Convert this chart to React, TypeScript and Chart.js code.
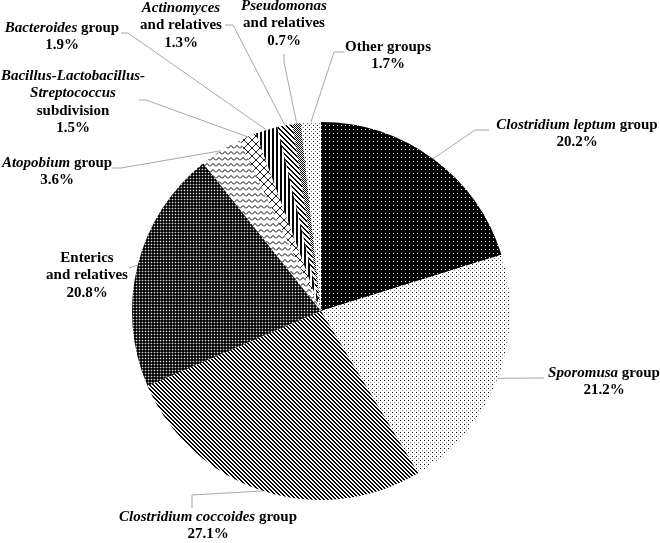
import React, { useEffect, useRef } from "react";
import { Chart, registerables } from "chart.js";

Chart.register(...registerables);

// ---------- data ----------
const categories = [
  "Clostridium leptum group",
  "Sporomusa group",
  "Clostridium coccoides group",
  "Enterics and relatives",
  "Atopobium group",
  "Bacillus-Lactobacillus-Streptococcus subdivision",
  "Bacteroides group",
  "Actinomyces and relatives",
  "Pseudomonas and relatives",
  "Other groups",
];
const values = [20.2, 21.2, 27.1, 20.8, 3.6, 1.5, 1.9, 1.3, 0.7, 1.7];
// label text lines (*...* = italic)
const nameLines = [
  ["*Clostridium leptum* group"],
  ["*Sporomusa* group"],
  ["*Clostridium coccoides* group"],
  ["Enterics", "and relatives"],
  ["*Atopobium* group"],
  ["*Bacillus-Lactobacillus-*", "*Streptococcus*", "subdivision"],
  ["*Bacteroides* group"],
  ["*Actinomyces*", "and relatives"],
  ["*Pseudomonas*", "and relatives"],
  ["Other groups"],
];

// ---------- layout (label placement, leader elbows) ----------
const labelLayout = [
  { cx: 577, y: 125, leader: [[489, 130], [475, 130]] },
  { cx: 604, y: 373, leader: [[544, 378], [533, 378]] },
  { cx: 208, y: 517, leader: [[192, 508], [192, 495]] },
  { cx: 87, y: 258, leader: [[129, 268]] },
  { cx: 57, y: 163, leader: [[112, 168], [121, 168]] },
  { cx: 73, y: 76, leader: [[139, 100], [146, 100]] },
  { cx: 62, y: 28, leader: [[121, 33], [128, 33]] },
  { cx: 181, y: 8, leader: [[225, 25], [233, 25]] },
  { cx: 284, y: 6, leader: [[284, 54], [284, 62]] },
  { cx: 388, y: 47, leader: [[344, 52], [334, 52]] },
];
const LINE_H = 17.5;
const FONT_FAMILY = '"Liberation Serif", "Times New Roman", serif';

// ---------- patterns ----------
function makeTile(w: number, h: number, draw: (g: CanvasRenderingContext2D) => void) {
  const c = document.createElement("canvas");
  c.width = w;
  c.height = h;
  const g = c.getContext("2d")!;
  draw(g);
  return g.createPattern(c, "repeat")!;
}
function px(g: CanvasRenderingContext2D, x: number, y: number, col: string) {
  g.fillStyle = col;
  g.fillRect(x, y, 1, 1);
}

function buildPatterns() {
  const darkDots = makeTile(4, 4, (g) => {
    g.fillStyle = "#000";
    g.fillRect(0, 0, 4, 4);
    px(g, 1, 1, "#fff");
  });
  const lightDots = makeTile(4, 4, (g) => {
    g.fillStyle = "#fff";
    g.fillRect(0, 0, 4, 4);
    px(g, 0, 0, "#000");
    px(g, 2, 2, "#888");
  });
  const diagDown = makeTile(4, 4, (g) => {
    g.fillStyle = "#fff";
    g.fillRect(0, 0, 4, 4);
    for (let y = 0; y < 4; y++)
      for (let x = 0; x < 4; x++) if ((((x - y) % 4) + 4) % 4 < 2) px(g, x, y, "#000");
  });
  const enterics = makeTile(3, 3, (g) => {
    g.fillStyle = "#000";
    g.fillRect(0, 0, 3, 3);
    for (let i = 0; i < 3; i++) {
      px(g, i, 1, "#3a3a3a");
      px(g, 1, i, "#3a3a3a");
    }
    px(g, 1, 1, "#d8d8d8");
  });
  const wave = makeTile(6, 6, (g) => {
    g.fillStyle = "#fff";
    g.fillRect(0, 0, 6, 6);
    g.strokeStyle = "#000";
    g.lineWidth = 1;
    g.beginPath();
    g.moveTo(0, 4.5);
    g.lineTo(3, 1.5);
    g.lineTo(6, 4.5);
    g.stroke();
  });
  const cross = makeTile(8, 8, (g) => {
    g.fillStyle = "#fff";
    g.fillRect(0, 0, 8, 8);
    for (let i = 0; i < 8; i++) {
      px(g, i, i, "#222");
      px(g, 7 - i, i, "#222");
    }
  });
  const vertical = makeTile(4, 4, (g) => {
    g.fillStyle = "#fff";
    g.fillRect(0, 0, 4, 4);
    g.fillStyle = "#000";
    g.fillRect(0, 0, 2, 4);
  });
  const diagWide = makeTile(5, 5, (g) => {
    g.fillStyle = "#fff";
    g.fillRect(0, 0, 5, 5);
    for (let y = 0; y < 5; y++)
      for (let x = 0; x < 5; x++) if ((((x - y) % 5) + 5) % 5 < 2) px(g, x, y, "#000");
  });
  const checker = makeTile(2, 2, (g) => {
    g.fillStyle = "#fff";
    g.fillRect(0, 0, 2, 2);
    px(g, 0, 0, "#000");
    px(g, 1, 1, "#000");
  });
  const sparseDots = makeTile(4, 4, (g) => {
    g.fillStyle = "#fff";
    g.fillRect(0, 0, 4, 4);
    px(g, 1, 1, "#000");
    px(g, 3, 3, "#666");
  });
  return [darkDots, lightDots, diagDown, enterics, wave, cross, vertical, diagWide, checker, sparseDots];
}

function drawRichLine(ctx: CanvasRenderingContext2D, text: string, cx: number, y: number) {
  const parts = text.split("*");
  const segs = parts
    .map((t, i) => ({ t, italic: i % 2 === 1 }))
    .filter((s) => s.t.length > 0);
  const fontFor = (it: boolean) => `${it ? "italic " : ""}bold 15px ${FONT_FAMILY}`;
  let total = 0;
  for (const s of segs) {
    ctx.font = fontFor(s.italic);
    total += ctx.measureText(s.t).width;
  }
  let x = cx - total / 2;
  for (const s of segs) {
    ctx.font = fontFor(s.italic);
    ctx.fillText(s.t, x, y);
    x += ctx.measureText(s.t).width;
  }
}

const labelPlugin = {
  id: "leaderLabels",
  afterDatasetsDraw(chart: any) {
    const ctx: CanvasRenderingContext2D = chart.ctx;
    const meta = chart.getDatasetMeta(0);
    meta.data.forEach((arc: any, i: number) => {
      const p = arc.getProps(["x", "y", "startAngle", "endAngle", "outerRadius"], true);
      const mid = (p.startAngle + p.endAngle) / 2;
      const ex = p.x + Math.cos(mid) * p.outerRadius;
      const ey = p.y + Math.sin(mid) * p.outerRadius;
      const L = labelLayout[i];
      ctx.save();
      ctx.strokeStyle = "#a8a8a8";
      ctx.lineWidth = 1;
      ctx.beginPath();
      ctx.moveTo(L.leader[0][0], L.leader[0][1]);
      for (let k = 1; k < L.leader.length; k++) ctx.lineTo(L.leader[k][0], L.leader[k][1]);
      ctx.lineTo(ex, ey);
      ctx.stroke();
      ctx.fillStyle = "#000";
      ctx.textBaseline = "middle";
      ctx.textAlign = "left";
      const lines = [...nameLines[i], `${values[i].toFixed(1)}%`];
      lines.forEach((ln, j) => drawRichLine(ctx, ln, L.cx, L.y + j * LINE_H));
      ctx.restore();
    });
  },
};

export default function App() {
  const canvasRef = useRef<HTMLCanvasElement | null>(null);

  useEffect(() => {
    if (!canvasRef.current) return;
    const patterns = buildPatterns();
    const chart = new Chart(canvasRef.current, {
      type: "pie",
      data: {
        labels: categories,
        datasets: [
          {
            data: values,
            backgroundColor: patterns as any,
            borderWidth: 0,
          },
        ],
      },
      options: {
        animation: false,
        responsive: true,
        maintainAspectRatio: false,
        layout: { padding: { left: 132, right: 150, top: 122, bottom: 43 } },
        plugins: {
          legend: { display: false },
          tooltip: { enabled: false },
        },
      },
      plugins: [labelPlugin],
    });
    return () => chart.destroy();
  }, []);

  return (
    <div style={{ position: "absolute", left: 0, top: 0, width: 660, height: 543, background: "#fff" }}>
      <canvas ref={canvasRef} />
    </div>
  );
}
